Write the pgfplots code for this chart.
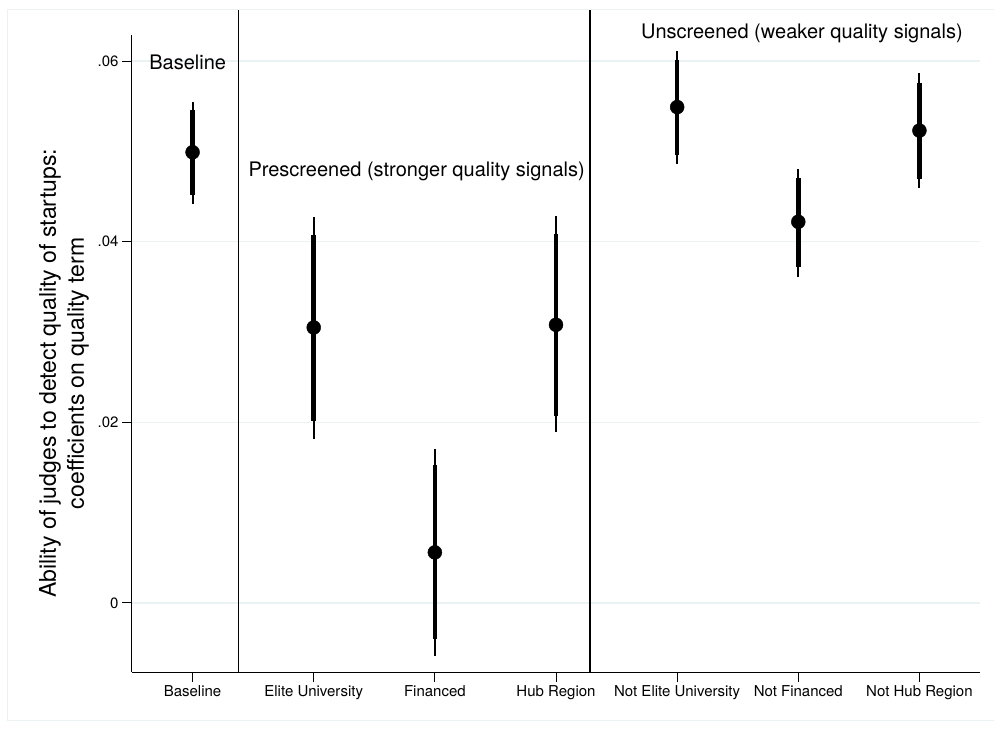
\documentclass[border=0pt]{standalone}
\usepackage{fontspec}
\setmainfont{TeX Gyre Heros}
\usepackage{pgfplots}
\usepackage{pgfplotstable}
\pgfplotsset{compat=1.18}
\definecolor{gridc}{HTML}{EAF2F3}

% point estimates with 90% (thick) and 95% (thin) confidence intervals
\pgfplotstableread{
x b      lo90    hi90   lo95    hi95
1 0.0499 0.0452  0.0546 0.0442  0.0555
2 0.0305 0.0201  0.0407 0.0182  0.0427
3 0.0056 -0.0040 0.0153 -0.0059 0.0171
4 0.0308 0.0207  0.0409 0.0189  0.0428
5 0.0549 0.0496  0.0601 0.0486  0.0611
6 0.0422 0.0372  0.0471 0.0361  0.0481
7 0.0523 0.0469  0.0576 0.0459  0.0587
}\coefs

\begin{document}
\begin{tikzpicture}
\begin{axis}[
  scale only axis, width=848bp, height=637bp,
  xmin=0.5, xmax=7.5, ymin=-0.00764, ymax=0.06288,
  axis lines*=left,
  axis line style={line width=1bp, black},
  xtick={1,...,7},
  xticklabels={Baseline, Elite University, Financed, Hub Region, Not Elite University, Not Financed, Not Hub Region},
  ytick={0,0.02,0.04,0.06}, yticklabels={0,.02,.04,.06},
  scaled y ticks=false,
  tick align=outside, major tick length=10bp,
  tick style={black, line width=1bp},
  ymajorgrids, grid style={gridc, line width=1.5bp},
  ticklabel style={font=\fontsize{15bp}{18bp}\selectfont},
  /pgf/number format/assume math mode=true,
  clip=false,
]
\coordinate (ll) at (rel axis cs:0,0);
\coordinate (ur) at (rel axis cs:1,1);

% group separators
\draw[black, line width=1.2bp] (axis cs:1.38,-0.00764) -- (axis cs:1.38,0.0656);
\draw[black, line width=1.2bp] (axis cs:4.281,-0.00764) -- (axis cs:4.281,0.0656);

% 95% intervals
\addplot[draw=none, mark=none,
  error bars/.cd, y dir=both, y explicit, error mark=none,
  error bar style={line width=2bp, black}]
  table[x=x, y=b, y error plus expr=\thisrow{hi95}-\thisrow{b},
        y error minus expr=\thisrow{b}-\thisrow{lo95}] {\coefs};
% 90% intervals
\addplot[draw=none, mark=none,
  error bars/.cd, y dir=both, y explicit, error mark=none,
  error bar style={line width=4.5bp, black}]
  table[x=x, y=b, y error plus expr=\thisrow{hi90}-\thisrow{b},
        y error minus expr=\thisrow{b}-\thisrow{lo90}] {\coefs};
% point estimates
\addplot[only marks, mark=*, mark size=7bp, black] table[x=x, y=b] {\coefs};

\begin{scope}[font=\fontsize{20bp}{24bp}\selectfont]
\node at (axis cs:0.96,0.0599) {Baseline};
\node at (axis cs:2.85,0.0478) {Prescreened (stronger quality signals)};
\node at (axis cs:6.03,0.0631) {Unscreened (weaker quality signals)};
\end{scope}

\node[rotate=90, align=center, font=\fontsize{23bp}{28bp}\selectfont]
  at ([xshift=-68bp]rel axis cs:0,0.469)
  {Ability of judges to detect quality of startups:\\coefficients on quality term};
\end{axis}
\draw[gridc, line width=1bp] ([shift={(-124bp,-48bp)}]ll) rectangle ([shift={(20bp,25bp)}]ur);
\pgfresetboundingbox
\path ([shift={(-132bp,-57bp)}]ll) rectangle ([shift={(14bp,35bp)}]ur);
\end{tikzpicture}
\end{document}
